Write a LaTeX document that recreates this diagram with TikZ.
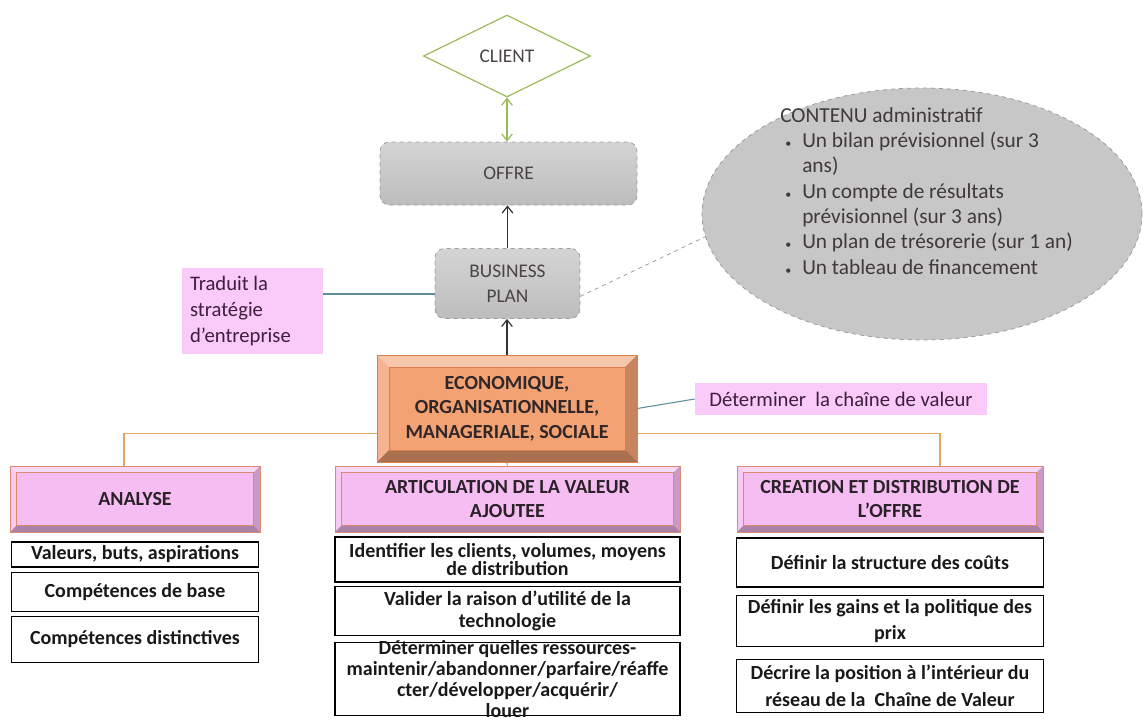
\documentclass[tikz,border=0pt]{standalone}
\usepackage{fontspec}
\setmainfont{Carlito}
\usepackage{xcolor}
\usepackage{tikz}
\usetikzlibrary{positioning,arrows.meta,shapes.geometric,backgrounds}
\definecolor{ink}{HTML}{2A2228}
\definecolor{lblpink}{HTML}{FACBF8}
\definecolor{headpink}{HTML}{F6BDF2}
\definecolor{headedge}{HTML}{D98A70}
\definecolor{ecoorange}{HTML}{F3A274}
\definecolor{ecoedge}{HTML}{D9804A}
\definecolor{greytop}{HTML}{D4D4D4}
\definecolor{greybot}{HTML}{BDBDBD}
\definecolor{greyedge}{HTML}{9C9C9C}
\definecolor{clientgreen}{HTML}{9BBB59}
\definecolor{branchtan}{HTML}{E2A765}
\definecolor{notelink}{HTML}{5F8C9A}

\begin{document}
\begin{tikzpicture}[
  x=0.75pt, y=-0.75pt,
  font=\fontsize{15}{18}\selectfont, text=ink,
  bevel/.style 2 args={draw=#1, line width=0.6pt, align=center, inner sep=2pt,
    font=\fontsize{15}{18.5}\selectfont\bfseries,
    path picture={
      \coordinate (bnw) at (path picture bounding box.north west);
      \coordinate (bne) at (path picture bounding box.north east);
      \coordinate (bsw) at (path picture bounding box.south west);
      \coordinate (bse) at (path picture bounding box.south east);
      \fill[white, opacity=0.4] (bnw) -- (bne) -- ([xshift=-#2,yshift=-#2]bne)
        -- ([xshift=#2,yshift=-#2]bnw) -- cycle;
      \fill[white, opacity=0.2] (bnw) -- (bsw) -- ([xshift=#2,yshift=#2]bsw)
        -- ([xshift=#2,yshift=-#2]bnw) -- cycle;
      \fill[black, opacity=0.18] (bne) -- (bse) -- ([xshift=-#2,yshift=#2]bse)
        -- ([xshift=-#2,yshift=-#2]bne) -- cycle;
      \fill[black, opacity=0.3] (bsw) -- (bse) -- ([xshift=-#2,yshift=#2]bse)
        -- ([xshift=#2,yshift=#2]bsw) -- cycle;
      \draw[#1, line width=0.4pt] ([xshift=#2,yshift=-#2]bnw)
        rectangle ([xshift=-#2,yshift=#2]bse);
    }},
  headbox/.style={bevel={headedge}{5pt}, fill=headpink, minimum height=49.5pt},
  greybox/.style={rounded corners=7pt, draw=greyedge, dashed, line width=0.6pt,
    top color=greytop, bottom color=greybot, align=center, text=ink!85,
    font=\fontsize{14.5}{19}\selectfont},
  lbl/.style={fill=lblpink, inner sep=6pt, align=flush left, text=ink!90!magenta,
    font=\fontsize{15.5}{19.5}\selectfont},
  taskbox/.style={draw=black, line width=0.9pt, fill=white, align=center,
    inner sep=1pt, text=black!90, font=\fontsize{15}{18}\selectfont\bfseries},
  flow/.style={-{Straight Barb[length=5pt,width=8pt]}, line width=0.9pt, draw=black!80},
  greenflow/.style={{Straight Barb[length=5pt,width=8pt]}-{Straight Barb[length=5pt,width=8pt]},
    line width=0.9pt, draw=clientgreen},
  note/.style={draw=notelink, line width=0.8pt},
  dashlink/.style={draw=greyedge, dashed, line width=0.6pt},
  branch/.style={draw=branchtan, line width=1pt},
]
\useasboundingbox (0,0) rectangle (1146,724);
\clip (0,0) rectangle (1146,724);

\node[diamond, aspect=2, draw=clientgreen, line width=0.9pt, fill=white, inner sep=0,
      minimum width=125.25pt, minimum height=61.5pt, text=ink!85,
      font=\fontsize{14.5}{17}\selectfont] (client) at (507,56) {CLIENT};
\node[greybox, minimum width=192.75pt, minimum height=47.25pt] (offre) at (508.5,173.5) {OFFRE};
\node[greybox, minimum width=108.75pt, minimum height=52.5pt] (bp) at (507.5,283.5) {BUSINESS\\PLAN};

\node[ellipse, draw=greyedge, dashed, line width=0.6pt, fill=greybot!85!white, inner sep=0,
      minimum width=330pt, minimum height=189pt] (ell) at (922,214) {};
\node[anchor=north west, inner sep=0, align=left, text=ink!90,
      font=\fontsize{16}{19}\selectfont] (contenu) at (780,107)
  {CONTENU administratif\\
   \hspace*{3.75pt}\makebox[12.75pt][l]{\small\textbullet}Un bilan prévisionnel (sur 3\\
   \hspace*{16.5pt}ans)\\
   \hspace*{3.75pt}\makebox[12.75pt][l]{\small\textbullet}Un compte de résultats\\
   \hspace*{16.5pt}prévisionnel (sur 3 ans)\\
   \hspace*{3.75pt}\makebox[12.75pt][l]{\small\textbullet}Un plan de trésorerie (sur 1 an)\\
   \hspace*{3.75pt}\makebox[12.75pt][l]{\small\textbullet}Un tableau de financement};

\node[lbl, text width=93.75pt, minimum height=61.5pt] (trad) at (252.5,311)
  {Traduit la\\stratégie\\d’entreprise};

\node[bevel={ecoedge}{9pt}, fill=ecoorange, minimum width=195pt, minimum height=80.25pt,
      text=ink!95!brown] (eco) at (507,408.5)
  {ECONOMIQUE,\\ORGANISATIONNELLE,\\MANAGERIALE, SOCIALE};
\node[lbl, minimum width=219pt, minimum height=24pt, inner ysep=3pt] (det) at (841,399)
  {Déterminer\ \ la chaîne de valeur};

\node[headbox, minimum width=187.5pt] (ana) at (135,499) {ANALYSE};
\node[headbox, minimum width=258.75pt] (art) at (507.5,499) {ARTICULATION DE LA VALEUR\\AJOUTEE};
\node[headbox, minimum width=229.5pt] (cre) at (890,499) {CREATION ET DISTRIBUTION DE\\L’OFFRE};

\node[taskbox, minimum width=185.25pt, minimum height=18.75pt, below=6.75pt of ana] (ana1)
  {Valeurs, buts, aspirations};
\node[taskbox, minimum width=185.25pt, minimum height=29.25pt, below=3pt of ana1] (ana2)
  {Compétences de base};
\node[taskbox, minimum width=185.25pt, minimum height=34.5pt, below=3pt of ana2] (ana3)
  {Compétences distinctives};

\node[taskbox, minimum width=258.75pt, minimum height=33.75pt, below=3pt of art,
      font=\fontsize{15}{14}\selectfont\bfseries] (art1)
  {Identifier les clients, volumes, moyens\\de distribution};
\node[taskbox, minimum width=258.75pt, minimum height=36.75pt, below=2.25pt of art1,
      font=\fontsize{15}{16.5}\selectfont\bfseries] (art2)
  {Valider la raison d’utilité de la\\technologie};
\node[taskbox, minimum width=258.75pt, inner ysep=-1.5pt, below=4.5pt of art2,
      font=\fontsize{15}{15.75}\selectfont\bfseries] (art3)
  {Déterminer quelles ressources-\\maintenir/abandonner/parfaire/réaffe\\cter/développer/acquérir/\\louer};

\node[taskbox, minimum width=230.25pt, minimum height=36.75pt, below=3.75pt of cre] (cre1)
  {Définir la structure des coûts};
\node[taskbox, minimum width=230.25pt, minimum height=38.25pt, below=5.25pt of cre1,
      font=\fontsize{15}{19.5}\selectfont\bfseries] (cre2)
  {Définir les gains et la politique des\\prix};
\node[taskbox, minimum width=230.25pt, minimum height=39.75pt, below=9pt of cre2,
      font=\fontsize{15}{20}\selectfont\bfseries] (cre3)
  {Décrire la position à l’intérieur du\\réseau de la~ Chaîne de Valeur};

\draw[greenflow] (client.south) -- (client.south |- offre.north);
\draw[flow] (bp.north) -- (bp.north |- offre.south);
\draw[flow] (eco.north) -- (eco.north |- bp.south);
\draw[note] ([yshift=12.75pt]trad.east) coordinate (t1) -- (t1 -| bp.west);
\draw[note] (eco.east) -- (det.west);
\draw[dashlink] (bp.-10) -- (ell.186);

\begin{scope}[on background layer]
\coordinate (hub) at ([yshift=21.75pt]eco.south);
\draw[branch] ([xshift=-8.25pt]ana.north) |- (hub) -| ([xshift=37.5pt]cre.north);
\draw[branch] (eco.south) -- (art.north);
\end{scope}
\end{tikzpicture}
\end{document}
